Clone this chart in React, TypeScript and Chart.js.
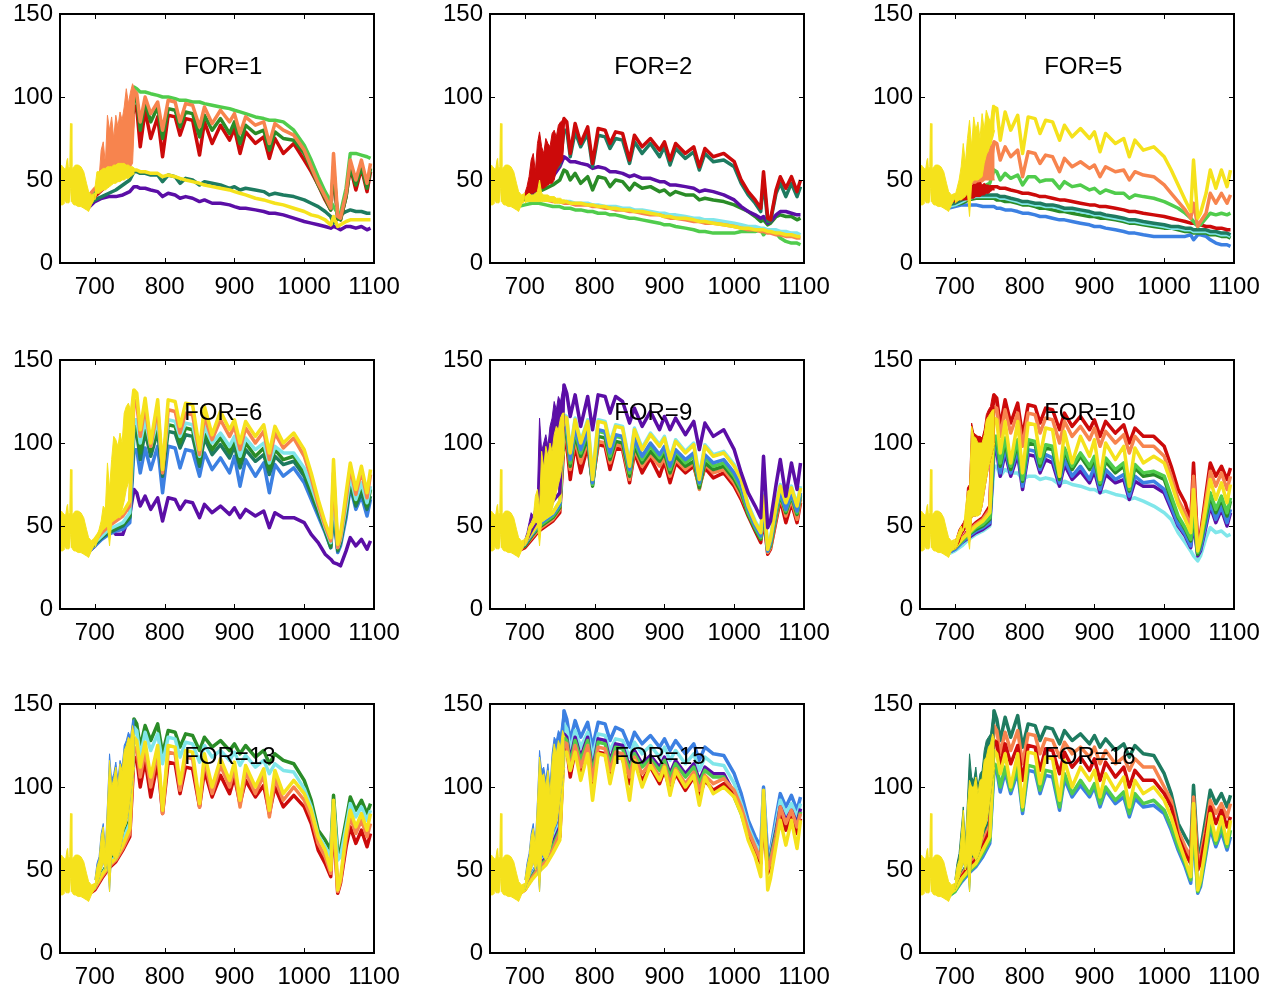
import React, { useEffect, useRef } from 'react';
import { Chart, registerables } from 'chart.js';
Chart.register(...registerables);

const FONT = "'Liberation Sans', Arial, Helvetica, sans-serif";
const X_TICKS = [700, 800, 900, 1000, 1100];
const Y_TICKS = [0, 50, 100, 150];
const TITLE_X = 828;
const TITLE_Y = 118;

const C = {
  purple: '#5b0ea6', blue: '#3c80e2', cyan: '#80e6ea', teal: '#1e7b60', dgreen: '#2a8c27',
  lgreen: '#50cc4c', yellow: '#f5e21c', orange: '#f7844e', red: '#cc0a0a',
};

// wavelength grid (nm) shared by all spectra lines
const WL = [690, 700, 710, 720, 730, 740, 750, 756, 760, 765, 772, 780, 790, 797, 805, 815, 822, 830, 840, 850, 857, 868, 880, 893, 900, 908, 916, 930, 942, 950, 958, 970, 985, 1000, 1010, 1020, 1030, 1038, 1042, 1048, 1052, 1060, 1066, 1074, 1082, 1090, 1095];
// band grid for the noisy 700-757 nm region
const BX = [700, 703, 706, 709, 712, 715, 718, 721, 724, 727, 730, 733, 736, 739, 742, 745, 748, 751, 754, 757];
// early (650-700 nm) noisy region, common to all panels
const EX = [650, 652, 654, 656, 657, 658, 660, 661, 662, 664, 665, 666, 667, 668, 670, 672, 676, 680, 684, 688, 691, 695, 700];
const EARLY_HI = [57, 59, 58, 57, 54, 56, 62, 63, 57, 58, 84, 84, 58, 57, 58, 59, 59, 58, 55, 48, 43, 41, 42];
const EARLY_LO = [35, 35, 35, 36, 38, 37, 36, 37, 36, 37, 45, 45, 37, 36, 35, 35, 34, 34, 33, 32, 31, 35, 39];

// FOR=1
const F1_PURPLE = [33,37,39,40,40,41,43,46,46,45,45,44,43,40,42,41,39,40,39,37,38,36,36,35,34,33,33,32,31,30,30,29,27,25,24,23,22,21,22,21,20,22,22,21,22,20,21];
const F1_TEAL = [35,38,40,42,44,47,50,55,55,54,54,53,53,49,53,52,48,51,50,47,49,48,47,45,46,44,45,44,43,41,42,41,40,38,36,34,31,28,24,27,29,31,32,31,31,30,30];
const F1_YELLOW = [38,42,46,48,50,52,55,56,56,55,55,54,54,52,53,52,51,50,49,48,47,46,45,44,43,42,41,39,38,37,36,35,33,31,29,28,26,23,28,22,23,25,26,26,26,26,26];
const F1_RED = [37,40,44,48,52,56,60,95,93,70,92,75,88,64,89,88,77,87,86,65,85,72,83,74,81,66,79,72,76,63,75,66,72,62,55,47,38,32,55,27,26,40,58,44,57,43,55];
const F1_DGREEN = [38,42,46,50,54,58,62,100,99,80,97,85,94,75,93,92,82,91,90,76,89,80,87,78,85,72,83,78,80,68,79,75,74,66,57,47,39,32,58,27,26,40,58,47,58,45,57];
const F1_LGREEN = [40,42,48,52,56,60,65,106,105,103,103,102,101,100,100,99,98,98,97,97,96,95,94,93,92,91,90,88,87,86,86,85,80,71,62,52,43,37,34,30,30,45,66,66,65,64,63];
const F1_ORANGE = [40,45,48,52,56,60,65,104,102,85,100,90,97,80,98,97,85,96,95,82,94,84,92,85,90,78,88,83,85,72,84,80,77,68,58,48,40,33,66,28,27,42,62,50,62,48,60];
const F1_ORANGE_HI = [45,48,51,68,73,60,89,80,88,75,89,82,91,86,94,105,96,103,108,104];
const F1_ORANGE_LO = [42,44,46,48,50,52,54,55,56,56,57,57,58,58,58,58,58,58,60,90];
const F1_YELLOW_HI = [45,55,55,56,57,57,58,58,58,59,59,60,60,60,60,59,59,58,58,57];
const F1_YELLOW_LO = [38,42,42,43,44,44,45,46,47,48,48,49,49,50,50,51,51,52,53,54];

// FOR=2
const F2_LGREEN = [34,35,36,36,35,34,34,33,33,33,32,32,31,31,30,30,29,29,28,27,27,26,25,24,23,23,22,21,20,19,19,18,18,18,19,19,19,20,17,20,20,18,15,13,12,12,11];
const F2_CYAN = [37,38,39,39,38,38,37,37,37,37,36,36,36,35,35,34,34,34,33,33,32,32,31,30,30,29,29,28,27,27,26,26,25,24,23,22,22,21,21,20,20,20,19,19,18,18,17];
const F2_ORANGE = [36,38,39,39,38,37,37,36,36,36,35,35,35,34,34,33,33,32,32,31,31,30,29,29,28,27,27,26,25,25,24,24,23,22,21,20,20,19,19,18,18,17,17,16,16,15,15];
const F2_YELLOW = [36,38,39,39,38,38,37,37,37,36,36,36,35,35,34,34,33,33,32,32,31,31,30,29,28,28,27,27,26,25,25,24,23,22,21,21,20,20,20,19,19,18,18,17,17,16,16];
const F2_DGREEN = [37,39,41,43,45,47,50,56,55,50,54,48,52,44,52,51,46,50,49,44,48,45,46,43,44,41,43,41,41,38,39,38,37,35,33,31,28,25,26,23,24,28,29,28,28,26,27];
const F2_PURPLE = [37,40,42,45,48,52,58,64,63,61,61,60,59,57,58,57,55,55,54,52,53,51,51,49,49,47,47,46,45,43,44,43,41,38,34,31,29,27,28,24,25,29,31,31,30,29,29];
const F2_TEAL = [37,39,43,47,51,55,59,80,80,64,79,70,78,58,77,76,69,75,74,60,73,66,72,64,70,59,69,63,67,56,66,61,62,58,48,41,36,31,50,25,25,42,48,40,48,40,46];
const F2_RED = [38,40,45,50,55,60,65,87,85,66,84,72,82,60,81,80,72,79,78,62,77,70,75,68,73,62,72,66,70,58,69,64,66,61,50,43,38,33,55,27,26,44,52,45,52,43,50];
const F2_RED_HI = [42,46,52,62,66,55,72,79,70,66,75,72,70,78,80,76,83,85,86,88];
const F2_RED_LO = [38,40,41,42,42,43,43,44,45,45,46,47,48,48,50,56,58,60,62,80];
const F2_YELLOW_HI = [40,41,42,41,41,42,43,50,42,41,41,41,40,40,40,39,39,39,38,38];
const F2_YELLOW_LO = [36,37,37,37,37,37,37,37,37,37,37,37,37,37,36,36,36,36,36,36];

// FOR=5
const F5_BLUE = [33,34,35,35,35,34,34,34,33,33,32,32,31,30,30,29,28,28,27,26,26,25,24,23,22,22,21,20,19,18,18,17,16,16,16,16,16,17,14,17,17,16,14,12,11,11,10];
const F5_DGREEN = [34,35,36,38,39,39,39,39,38,38,37,37,36,35,35,34,33,33,32,31,31,30,29,28,28,27,27,26,25,24,24,23,22,21,21,20,19,19,18,18,18,18,17,17,16,16,15];
const F5_CYAN = [34,35,37,39,40,40,40,40,40,39,39,38,37,36,36,35,35,34,34,33,32,32,31,30,29,29,28,27,26,25,25,24,23,22,21,21,20,20,19,19,19,19,18,18,17,17,16];
const F5_TEAL = [35,36,38,40,41,41,41,41,41,40,40,39,38,37,37,36,36,35,35,34,33,33,32,31,30,30,29,28,27,26,26,25,24,23,22,22,21,21,20,20,20,20,19,19,18,18,17];
const F5_RED = [36,38,42,45,46,46,46,46,46,45,45,44,43,42,42,41,40,40,39,38,38,37,36,35,35,34,34,33,32,31,31,30,29,28,27,26,25,24,24,23,23,22,22,21,21,20,20];
const F5_LGREEN = [37,39,41,43,44,46,48,56,55,50,54,51,53,47,52,52,49,50,50,45,49,46,47,44,45,42,44,42,42,39,41,40,39,37,35,33,30,27,25,22,23,27,30,29,30,29,30];
const F5_ORANGE = [38,40,43,45,47,50,55,73,72,62,70,64,68,52,67,66,60,65,64,55,63,58,61,57,59,52,58,55,56,50,55,53,52,47,42,37,32,27,36,22,25,30,42,36,42,36,41];
const F5_YELLOW = [38,40,45,50,55,60,70,94,93,74,91,80,89,66,88,87,78,86,85,74,83,76,81,75,79,67,78,72,75,64,74,68,70,64,56,47,38,31,62,27,30,42,56,45,56,46,56];
const F5_RED_HI = [40,42,44,46,48,50,49,51,50,49,50,48,49,47,48,47,47,46,46,46];
const F5_RED_LO = [36,37,38,38,38,38,38,38,39,39,40,40,40,41,41,42,42,43,44,44];
const F5_ORANGE_HI = [40,42,44,46,48,50,52,54,56,55,58,60,62,60,65,68,66,70,72,73];
const F5_ORANGE_LO = [40,40,41,42,43,44,45,46,47,48,48,49,49,50,50,50,50,50,50,50];
const F5_YELLOW_HI = [40,45,50,58,72,60,75,86,70,88,80,85,75,90,80,92,88,85,95,95];
const F5_YELLOW_LO = [36,37,38,38,39,40,42,28,48,50,50,50,51,52,60,65,68,72,75,80];

// FOR=6
const F6_PURPLE = [34,38,45,50,45,45,57,72,70,62,68,60,67,53,67,66,60,65,64,55,63,58,62,57,61,55,60,56,59,49,58,55,55,52,45,40,33,30,28,27,26,35,43,38,42,36,41];
const F6_BLUE = [34,38,42,45,47,48,52,96,96,82,97,84,98,70,98,97,85,96,95,80,94,84,91,82,92,74,90,80,88,70,87,80,85,76,66,56,46,37,58,34,38,55,74,60,68,56,66];
const F6_TEAL = [35,39,43,46,48,50,55,106,106,90,107,92,107,80,107,106,97,105,104,86,103,93,99,91,98,85,96,89,93,81,92,87,89,80,69,58,47,37,62,35,40,58,75,62,70,60,68];
const F6_DGREEN = [36,40,44,47,49,51,56,110,110,94,111,95,111,82,111,110,100,109,108,88,107,96,103,94,102,88,100,92,97,84,96,90,92,82,71,60,48,38,66,36,41,60,78,64,74,62,72];
const F6_CYAN = [36,40,44,48,50,52,58,114,114,100,114,98,114,85,114,113,104,112,111,92,110,100,106,98,104,92,103,96,100,88,98,94,94,85,74,62,49,40,70,37,42,62,80,66,76,64,74];
const F6_ORANGE = [37,41,46,50,53,56,62,126,124,104,122,98,121,82,120,119,106,118,117,93,116,102,114,104,110,96,109,100,107,90,106,97,103,92,79,63,50,41,82,37,43,66,85,69,83,67,81];
const F6_YELLOW = [38,42,48,52,55,58,65,132,130,108,127,100,126,84,126,125,110,124,123,96,122,105,119,108,114,100,113,104,111,94,110,100,106,96,82,66,52,43,90,39,45,70,88,72,86,70,84];
const F6_YELLOW_HI = [40,44,48,53,62,60,88,72,90,104,102,98,106,100,118,122,124,120,132,132];
const F6_YELLOW_LO = [37,40,43,46,48,50,50,38,52,54,55,56,55,60,65,72,76,80,90,110];

// FOR=9
const F9_RED = [35,37,42,47,50,53,58,100,99,78,99,82,98,76,99,98,84,97,96,76,94,82,91,80,89,76,88,82,86,74,85,79,82,74,66,56,47,40,55,33,36,53,66,52,64,52,64];
const F9_ORANGE = [35,38,43,48,51,54,60,104,103,84,102,88,101,76,101,100,88,99,98,78,96,86,93,86,91,80,90,84,88,72,87,82,84,76,68,58,49,42,58,34,37,55,68,56,66,54,66];
const F9_DGREEN = [36,38,44,49,52,55,61,107,106,86,105,92,103,74,104,103,90,101,100,80,98,88,95,89,94,82,92,86,89,73,88,84,86,78,70,57,48,42,60,35,38,57,69,58,68,57,68];
const F9_LGREEN = [36,39,45,50,53,56,62,110,109,88,108,94,107,75,107,106,92,104,103,82,101,90,98,91,97,84,95,88,92,75,91,86,88,80,72,58,49,43,62,35,39,58,70,59,69,58,69];
const F9_BLUE = [36,39,45,51,54,57,63,112,111,90,110,96,108,76,108,107,94,105,104,84,103,92,100,93,98,86,96,90,94,76,93,88,90,82,74,60,50,44,64,35,40,60,71,60,70,59,70];
const F9_CYAN = [37,40,46,52,55,58,65,117,116,95,115,101,114,80,114,113,100,111,110,88,109,97,106,99,104,91,102,95,100,80,99,93,95,87,78,63,53,47,69,37,43,63,75,65,74,63,74];
const F9_YELLOW = [37,40,46,52,55,58,65,116,115,94,114,100,113,78,113,112,98,110,109,86,108,96,105,98,103,90,101,94,99,78,98,92,94,86,78,62,52,46,68,36,42,62,74,64,73,62,73];
const F9_PURPLE = [37,40,48,55,60,65,70,135,130,116,129,110,128,108,129,128,118,128,125,112,121,110,119,108,116,108,115,105,113,96,112,104,108,96,82,70,62,55,92,49,53,75,90,68,88,72,88];
const F9_PURPLE_HI = [42,46,52,58,56,62,70,115,95,100,105,98,110,115,125,120,128,125,132,135];
const F9_PURPLE_LO = [40,42,45,48,50,52,52,53,55,56,57,58,58,62,66,72,78,85,95,110];
const F9_YELLOW_HI = [42,45,50,52,55,68,72,60,95,85,98,92,100,95,105,110,108,115,118,118];
const F9_YELLOW_LO = [38,40,44,48,50,52,52,38,53,55,56,57,56,60,65,70,75,80,88,95];

// FOR=10
const F10_CYAN = [33,35,38,42,45,47,50,86,86,80,84,82,82,78,80,80,78,79,78,75,77,75,74,72,72,70,71,69,68,66,67,65,62,58,54,46,40,35,32,29,32,43,49,46,47,44,45];
const F10_PURPLE = [34,36,40,43,46,48,51,95,95,80,94,80,93,72,93,92,82,90,88,74,87,78,83,76,83,70,81,76,78,66,77,74,74,70,60,50,44,37,52,32,35,50,62,52,60,50,58];
const F10_BLUE = [34,36,40,44,47,49,52,98,98,82,97,82,96,74,96,95,84,93,91,76,90,80,86,78,86,72,84,78,81,68,80,76,77,72,62,51,45,38,55,33,36,52,64,54,62,52,60];
const F10_DGREEN = [35,37,41,45,48,50,54,102,102,86,101,84,100,77,100,99,86,97,96,78,95,84,92,84,90,75,89,82,86,71,85,80,81,78,66,55,48,41,58,33,39,56,68,58,66,56,65];
const F10_LGREEN = [35,37,41,45,49,51,55,104,104,88,103,86,102,78,102,101,88,99,98,80,97,86,94,86,92,76,91,84,88,72,87,82,83,80,68,56,49,42,60,34,40,58,70,60,68,58,67];
const F10_RED = [36,38,42,48,52,55,62,129,127,110,126,112,124,104,123,122,112,121,120,108,118,110,116,108,114,104,113,106,111,100,109,104,104,98,86,72,64,53,88,39,45,70,88,80,86,78,85];
const F10_ORANGE = [36,38,42,47,51,54,60,122,121,104,120,106,118,98,118,117,106,115,114,100,113,104,110,102,109,98,107,100,105,94,104,98,98,92,80,66,58,50,80,37,43,66,83,74,82,72,80];
const F10_YELLOW = [35,37,42,46,50,53,58,115,114,94,113,88,113,82,112,111,92,109,108,80,107,88,104,92,102,78,100,90,98,74,97,88,92,88,76,63,54,46,72,35,42,62,78,66,76,64,75];
const F10_RED_HI = [40,44,48,50,52,55,73,75,112,106,105,104,104,103,108,117,120,122,129,129];
const F10_RED_LO = [36,38,40,44,46,48,50,40,55,56,56,57,57,62,70,78,85,90,95,100];
const F10_YELLOW_HI = [40,44,47,50,47,60,71,72,110,104,103,100,100,100,105,114,116,118,120,120];
const F10_YELLOW_LO = [36,38,42,45,48,50,45,36,55,56,56,56,57,62,70,78,85,90,95,100];

// lower edge of the 700-757 band, bottom row
const LATE_LO = [38,42,45,50,55,50,55,37,60,58,56,58,62,68,75,78,85,95,105,112];

// FOR=13
const F13_DGREEN = [36,40,48,55,60,70,80,141,138,124,137,128,138,120,134,133,124,132,131,122,130,124,128,122,126,120,125,118,122,114,120,116,114,104,92,74,68,62,95,60,62,80,94,86,92,84,90];
const F13_CYAN = [36,40,47,54,58,68,78,136,134,118,133,122,132,114,130,129,118,127,126,115,125,118,122,116,121,113,119,112,116,108,114,110,109,99,88,71,64,58,90,56,58,76,90,82,88,80,86];
const F13_RED = [35,38,45,51,55,62,70,118,117,100,116,94,115,84,115,114,96,112,111,88,110,94,107,96,106,90,104,94,101,84,100,88,95,88,78,62,54,46,80,36,42,64,76,66,74,64,72];
const F13_ORANGE = [35,39,46,52,56,63,72,124,123,106,122,100,121,84,121,120,98,118,117,88,116,96,113,100,111,88,109,96,107,82,105,92,100,92,82,66,58,48,84,37,43,68,82,72,80,70,78];
const F13_YELLOW = [36,40,47,53,57,65,75,130,128,112,127,106,125,86,125,124,102,122,121,90,120,100,117,104,115,92,113,100,111,86,110,96,104,96,86,70,62,50,92,38,45,72,86,76,84,74,84];
const F13_BLUE_HI = [44,54,58,72,78,62,90,120,104,108,115,104,116,112,125,128,133,130,140,141];
const F13_YELLOW_HI = [44,52,56,70,76,60,88,116,100,105,112,100,114,110,122,125,130,128,137,130];

// FOR=15
const F15_BLUE = [36,40,48,55,60,70,80,146,141,128,140,130,139,124,139,138,128,136,134,124,133,126,131,124,129,122,128,120,126,116,124,120,119,108,96,80,70,64,100,58,62,82,96,88,95,86,94];
const F15_CYAN = [36,40,47,54,58,68,78,138,135,122,134,124,133,118,132,131,122,129,128,118,127,120,125,118,124,116,122,114,120,110,118,114,113,102,90,76,66,60,94,56,60,78,92,84,90,82,90];
const F15_PURPLE = [35,39,46,53,57,66,76,132,130,116,130,118,130,110,129,128,116,126,125,112,122,114,119,112,118,108,116,108,114,104,112,108,108,96,86,72,62,56,88,54,58,74,88,80,86,78,87];
const F15_LGREEN = [35,39,46,52,56,64,74,130,128,114,128,116,128,108,127,126,114,124,123,110,120,112,117,110,116,106,114,106,112,102,110,106,106,94,84,70,61,55,86,53,57,72,86,78,84,76,85];
const F15_RED = [35,38,45,50,54,61,70,124,123,106,122,108,122,100,121,120,106,118,117,102,115,104,112,102,110,98,108,98,106,94,104,98,102,95,85,72,62,54,80,48,53,68,85,74,83,72,81];
const F15_ORANGE = [35,38,45,51,55,62,72,127,126,110,125,112,125,104,124,123,110,121,120,106,118,108,115,106,113,102,111,102,109,98,107,102,105,98,88,74,64,56,84,50,55,70,88,78,86,76,84];
const F15_YELLOW = [35,38,44,49,53,60,68,121,121,110,121,104,120,92,120,119,102,118,117,92,116,100,113,104,112,95,110,100,107,89,106,96,100,94,84,68,58,46,98,38,45,65,80,65,80,63,80];
const F15_BLUE_HI = [44,54,60,72,78,66,92,122,110,112,104,114,100,120,130,128,134,132,142,146];
const F15_YELLOW_HI = [44,52,58,70,75,65,90,118,106,108,100,110,95,116,126,120,128,124,134,130];

// FOR=16
const F16_TEAL = [36,40,48,55,60,70,80,146,141,128,142,130,143,124,138,137,128,136,135,126,134,128,132,126,131,124,129,122,126,118,125,120,119,108,96,78,70,64,101,60,62,82,98,90,96,88,95];
const F16_ORANGE = [35,39,47,54,58,67,77,137,134,120,133,122,134,114,132,131,120,129,128,118,127,120,124,118,124,114,122,114,118,110,117,112,112,100,92,74,64,58,94,55,58,76,92,84,90,82,90];
const F16_RED = [35,38,46,52,56,64,74,128,127,112,126,114,125,104,125,124,110,123,122,108,121,112,118,110,117,104,115,106,112,100,110,104,104,96,88,70,60,54,86,50,54,72,88,78,86,76,82];
const F16_BLUE = [34,37,43,48,52,58,66,110,110,97,109,96,109,84,110,109,96,107,106,86,105,94,101,94,100,88,98,90,94,82,93,88,89,84,74,62,52,42,76,36,40,60,75,64,73,62,70];
const F16_LGREEN = [34,37,44,49,53,60,68,114,113,100,112,98,112,86,113,112,98,110,109,88,108,96,104,96,102,90,100,92,97,84,96,90,92,86,76,64,54,44,80,37,42,62,78,66,76,64,74];
const F16_YELLOW = [35,38,45,50,54,62,70,122,120,108,120,100,120,88,121,120,102,118,117,92,116,100,112,104,110,94,108,98,106,88,104,96,100,92,82,68,56,46,90,38,44,66,84,68,82,66,80];
const F16_TEAL_HI = [44,54,60,74,88,66,92,120,106,104,112,100,108,110,122,128,130,132,142,146];
const F16_YELLOW_HI = [44,52,56,70,86,62,88,104,100,100,106,96,104,105,116,118,124,126,132,128];

type Line = { color: string; y: number[] };
type Band = { color: string; x: number[]; hi: number[]; lo: number[] };
type Panel = { title: string; lines: Line[]; bands: Band[] };

const L = (color: string, y: number[]): Line => ({ color, y });
const B = (color: string, hi: number[], lo: number[], x: number[] = BX): Band => ({ color, x, hi, lo });

const PANELS: Panel[] = [
  { title: 'FOR=1',
    lines: [L(C.purple, F1_PURPLE), L(C.teal, F1_TEAL), L(C.yellow, F1_YELLOW), L(C.red, F1_RED), L(C.dgreen, F1_DGREEN), L(C.lgreen, F1_LGREEN), L(C.orange, F1_ORANGE)],
    bands: [B(C.orange, F1_ORANGE_HI, F1_ORANGE_LO), B(C.yellow, F1_YELLOW_HI, F1_YELLOW_LO)] },
  { title: 'FOR=2',
    lines: [L(C.lgreen, F2_LGREEN), L(C.cyan, F2_CYAN), L(C.orange, F2_ORANGE), L(C.yellow, F2_YELLOW), L(C.dgreen, F2_DGREEN), L(C.purple, F2_PURPLE), L(C.teal, F2_TEAL), L(C.red, F2_RED)],
    bands: [B(C.red, F2_RED_HI, F2_RED_LO), B(C.yellow, F2_YELLOW_HI, F2_YELLOW_LO)] },
  { title: 'FOR=5',
    lines: [L(C.blue, F5_BLUE), L(C.dgreen, F5_DGREEN), L(C.cyan, F5_CYAN), L(C.teal, F5_TEAL), L(C.red, F5_RED), L(C.lgreen, F5_LGREEN), L(C.orange, F5_ORANGE), L(C.yellow, F5_YELLOW)],
    bands: [B(C.red, F5_RED_HI, F5_RED_LO), B(C.orange, F5_ORANGE_HI, F5_ORANGE_LO), B(C.yellow, F5_YELLOW_HI, F5_YELLOW_LO)] },
  { title: 'FOR=6',
    lines: [L(C.purple, F6_PURPLE), L(C.blue, F6_BLUE), L(C.teal, F6_TEAL), L(C.dgreen, F6_DGREEN), L(C.cyan, F6_CYAN), L(C.orange, F6_ORANGE), L(C.yellow, F6_YELLOW)],
    bands: [B(C.yellow, F6_YELLOW_HI, F6_YELLOW_LO)] },
  { title: 'FOR=9',
    lines: [L(C.red, F9_RED), L(C.orange, F9_ORANGE), L(C.dgreen, F9_DGREEN), L(C.lgreen, F9_LGREEN), L(C.blue, F9_BLUE), L(C.cyan, F9_CYAN), L(C.yellow, F9_YELLOW), L(C.purple, F9_PURPLE)],
    bands: [B(C.purple, F9_PURPLE_HI, F9_PURPLE_LO), B(C.yellow, F9_YELLOW_HI, F9_YELLOW_LO)] },
  { title: 'FOR=10',
    lines: [L(C.cyan, F10_CYAN), L(C.purple, F10_PURPLE), L(C.blue, F10_BLUE), L(C.dgreen, F10_DGREEN), L(C.lgreen, F10_LGREEN), L(C.red, F10_RED), L(C.orange, F10_ORANGE), L(C.yellow, F10_YELLOW)],
    bands: [B(C.red, F10_RED_HI, F10_RED_LO), B(C.yellow, F10_YELLOW_HI, F10_YELLOW_LO)] },
  { title: 'FOR=13',
    lines: [L(C.dgreen, F13_DGREEN), L(C.cyan, F13_CYAN), L(C.red, F13_RED), L(C.orange, F13_ORANGE), L(C.yellow, F13_YELLOW)],
    bands: [B(C.blue, F13_BLUE_HI, LATE_LO), B(C.yellow, F13_YELLOW_HI, LATE_LO)] },
  { title: 'FOR=15',
    lines: [L(C.blue, F15_BLUE), L(C.cyan, F15_CYAN), L(C.purple, F15_PURPLE), L(C.lgreen, F15_LGREEN), L(C.red, F15_RED), L(C.orange, F15_ORANGE), L(C.yellow, F15_YELLOW)],
    bands: [B(C.blue, F15_BLUE_HI, LATE_LO), B(C.yellow, F15_YELLOW_HI, LATE_LO)] },
  { title: 'FOR=16',
    lines: [L(C.teal, F16_TEAL), L(C.orange, F16_ORANGE), L(C.red, F16_RED), L(C.blue, F16_BLUE), L(C.lgreen, F16_LGREEN), L(C.yellow, F16_YELLOW)],
    bands: [B(C.teal, F16_TEAL_HI, LATE_LO), B(C.yellow, F16_YELLOW_HI, LATE_LO)] },
];

const COL_LEFT = [60, 490, 920];
const ROW_TOP = [14, 360, 704];
const PLOT_W = 314;
const PLOT_H = 249;
const PAD_L = 60, PAD_T = 30, PAD_R = 44, PAD_B = 36;
const CW = PAD_L + PLOT_W + PAD_R;
const CH = PAD_T + PLOT_H + PAD_B;

function buildDatasets(panel: Panel) {
  const ds: any[] = [];
  let k = 0;
  panel.lines.forEach((l) => {
    ds.push({
      data: WL.map((x, i) => ({ x, y: l.y[i] })), borderColor: l.color, borderWidth: 3.5,
      borderJoinStyle: 'round', pointRadius: 0, fill: false, order: -(k++),
    });
  });
  const bands = [...panel.bands, B(C.yellow, EARLY_HI, EARLY_LO, EX)];
  bands.forEach((b) => {
    ds.push({
      data: b.x.map((x, i) => ({ x, y: b.lo[i] })), borderColor: b.color, borderWidth: 1,
      pointRadius: 0, fill: false, order: -(k++),
    });
    ds.push({
      data: b.x.map((x, i) => ({ x, y: b.hi[i] })), borderColor: b.color, backgroundColor: b.color,
      borderWidth: 1, borderJoinStyle: 'round', pointRadius: 0, fill: '-1', order: -(k++),
    });
  });
  return ds;
}

const framePlugin = (title: string) => ({
  id: 'frame',
  afterDatasetsDraw(chart: any) {
    const { ctx, chartArea: a, scales } = chart;
    const xs = scales.x, ys = scales.y;
    ctx.save();
    ctx.fillStyle = '#000';
    ctx.font = `24px ${FONT}`;
    ctx.textAlign = 'left';
    ctx.textBaseline = 'middle';
    ctx.fillText(title, xs.getPixelForValue(TITLE_X), ys.getPixelForValue(TITLE_Y));
    ctx.strokeStyle = '#000';
    ctx.lineWidth = 1;
    ctx.beginPath();
    X_TICKS.forEach((v) => {
      const p = Math.round(xs.getPixelForValue(v)) + 0.5;
      ctx.moveTo(p, a.bottom); ctx.lineTo(p, a.bottom - 5);
      ctx.moveTo(p, a.top); ctx.lineTo(p, a.top + 5);
    });
    Y_TICKS.forEach((v) => {
      const p = Math.round(ys.getPixelForValue(v)) + 0.5;
      ctx.moveTo(a.left, p); ctx.lineTo(a.left + 5, p);
      ctx.moveTo(a.right, p); ctx.lineTo(a.right - 5, p);
    });
    ctx.stroke();
    ctx.lineWidth = 2;
    ctx.strokeRect(a.left, a.top, a.right - a.left, a.bottom - a.top);
    ctx.restore();
  },
});

function PanelChart({ panel, left, top }: { panel: Panel; left: number; top: number }) {
  const ref = useRef<HTMLCanvasElement>(null);
  useEffect(() => {
    const canvas = ref.current;
    if (!canvas) return;
    const tickFont = { family: FONT, size: 24 };
    const chart = new Chart(canvas, {
      type: 'line',
      data: { datasets: buildDatasets(panel) },
      options: {
        animation: false,
        responsive: false,
        devicePixelRatio: 1,
        layout: { padding: { left: 0, top: PAD_T, right: PAD_R, bottom: 0 } },
        plugins: { legend: { display: false }, tooltip: { enabled: false }, title: { display: false } },
        scales: {
          x: {
            type: 'linear', min: 650, max: 1100,
            afterBuildTicks: (ax: any) => { ax.ticks = X_TICKS.map((v) => ({ value: v })); },
            afterFit: (s: any) => { s.height = PAD_B; },
            grid: { display: false, drawTicks: false },
            border: { display: false },
            ticks: { autoSkip: false, maxRotation: 0, minRotation: 0, padding: 10, color: '#000', font: tickFont, callback: (v: any) => String(v) },
          },
          y: {
            type: 'linear', min: 0, max: 150,
            afterBuildTicks: (ax: any) => { ax.ticks = Y_TICKS.map((v) => ({ value: v })); },
            afterFit: (s: any) => { s.width = PAD_L; },
            grid: { display: false, drawTicks: false },
            border: { display: false },
            ticks: { padding: 7, color: '#000', font: tickFont, callback: (v: any) => String(v) },
          },
        },
      } as any,
      plugins: [framePlugin(panel.title)],
    });
    return () => chart.destroy();
  }, [panel]);
  return (
    <canvas
      ref={ref}
      width={CW}
      height={CH}
      style={{ position: 'absolute', left, top, width: CW, height: CH }}
    />
  );
}

export default function App() {
  return (
    <div style={{ position: 'absolute', left: 0, top: 0, width: 1266, height: 990, overflow: 'hidden', background: '#fff' }}>
      {PANELS.map((p, i) => (
        <PanelChart
          key={p.title}
          panel={p}
          left={COL_LEFT[i % 3] - PAD_L}
          top={ROW_TOP[Math.floor(i / 3)] - PAD_T}
        />
      ))}
    </div>
  );
}
